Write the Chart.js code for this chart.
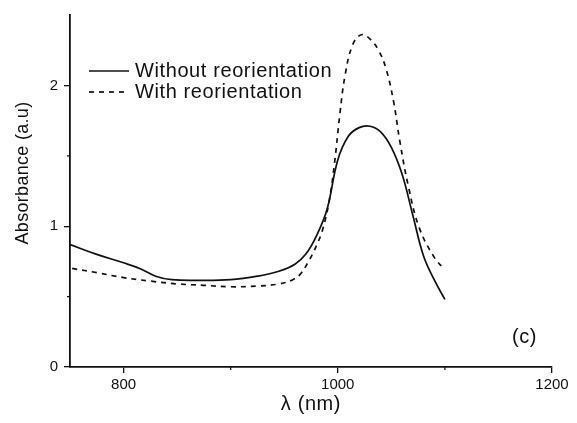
<!DOCTYPE html>
<html>
<head>
<meta charset="utf-8">
<script src="https://cdn.jsdelivr.net/npm/chart.js@4"></script>
<style>
  html, body { margin: 0; padding: 0; background: #fff; }
  #wrap { width: 577px; height: 423px; }
</style>
</head>
<body>
<div id="wrap"><canvas id="absChart" width="577" height="423"></canvas></div>
<script>
// wavelength (nm) / absorbance pairs
const withoutX = [750, 775, 800, 815, 830, 845, 870, 900, 925, 945, 960, 970, 980, 990, 1000, 1010, 1020, 1030, 1040, 1050, 1060, 1070, 1080, 1090, 1100];
const withoutY = [0.87, 0.80, 0.74, 0.70, 0.645, 0.62, 0.615, 0.62, 0.645, 0.68, 0.73, 0.80, 0.93, 1.12, 1.47, 1.64, 1.70, 1.71, 1.67, 1.56, 1.37, 1.08, 0.79, 0.62, 0.48];

const withX = [752, 775, 800, 825, 850, 875, 900, 925, 945, 958, 965, 972, 980, 986, 992, 997, 1002, 1007, 1014, 1022, 1030, 1038, 1045, 1052, 1058, 1066, 1076, 1090, 1100];
const withY = [0.70, 0.67, 0.635, 0.61, 0.59, 0.58, 0.57, 0.575, 0.59, 0.62, 0.66, 0.74, 0.86, 0.98, 1.18, 1.45, 1.80, 2.08, 2.29, 2.36, 2.33, 2.25, 2.12, 1.89, 1.60, 1.28, 0.99, 0.78, 0.69];

const seriesNames = ['Without reorientation', 'With reorientation'];
const xLabels = [800, 1000, 1200];
const xMinor = [900, 1100];
const yLabels = [0, 1, 2];
const yMinor = [0.5, 1.5];
const panelTag = '(c)';

const toPoints = (xs, ys) => xs.map((x, i) => ({ x: x, y: ys[i] }));

const FONT = '"Liberation Sans", Arial, sans-serif';
const INK = '#111';

// legend, titles, panel label and short minor ticks
const overlay = {
  id: 'overlay',
  afterDraw(chart) {
    const ctx = chart.ctx;
    const xs = chart.scales.x, ys = chart.scales.y;
    const area = chart.chartArea;
    ctx.save();
    ctx.strokeStyle = INK;
    ctx.fillStyle = INK;

    // minor ticks
    ctx.lineWidth = 1.2;
    ctx.beginPath();
    xMinor.forEach(v => {
      const px = xs.getPixelForValue(v);
      ctx.moveTo(px, area.bottom); ctx.lineTo(px, area.bottom + 3);
    });
    yMinor.forEach(v => {
      const py = ys.getPixelForValue(v);
      ctx.moveTo(area.left, py); ctx.lineTo(area.left - 3, py);
    });
    ctx.stroke();

    // legend
    ctx.lineWidth = 1.7;
    ctx.font = '20px ' + FONT;
    ctx.letterSpacing = '0.6px';
    ctx.textBaseline = 'middle';
    ctx.textAlign = 'left';
    ctx.beginPath();
    ctx.moveTo(89, 71); ctx.lineTo(129, 71);
    ctx.stroke();
    ctx.fillText(seriesNames[0], 135, 71);

    ctx.setLineDash([5, 5]);
    ctx.beginPath();
    ctx.moveTo(89, 92); ctx.lineTo(129, 92);
    ctx.stroke();
    ctx.setLineDash([]);
    ctx.fillText(seriesNames[1], 135, 92);

    // panel tag
    ctx.fillText(panelTag, 512, 337);

    // axis titles
    ctx.textAlign = 'center';
    ctx.font = '20px ' + FONT;
    ctx.fillText('λ (nm)', (area.left + area.right) / 2, 404);

    ctx.font = '18px ' + FONT;
    ctx.letterSpacing = '0.3px';
    ctx.translate(23, 173);
    ctx.rotate(-Math.PI / 2);
    ctx.fillText('Absorbance (a.u)', 0, 0);
    ctx.restore();
  }
};

new Chart(document.getElementById('absChart'), {
  type: 'line',
  data: {
    datasets: [{
      label: seriesNames[0],
      data: toPoints(withoutX, withoutY),
      borderColor: INK,
      borderWidth: 1.7,
      pointRadius: 0,
      tension: 0.4,
      fill: false
    }, {
      label: seriesNames[1],
      data: toPoints(withX, withY),
      borderColor: INK,
      borderWidth: 1.7,
      borderDash: [5, 5],
      pointRadius: 0,
      tension: 0.4,
      fill: false
    }]
  },
  options: {
    responsive: false,
    animation: false,
    layout: { padding: { left: 0, top: 14, right: 25, bottom: 0 } },
    plugins: { legend: { display: false }, tooltip: { enabled: false } },
    scales: {
      x: {
        type: 'linear',
        min: 750,
        max: 1200,
        afterFit(s) { s.height = 56; },
        afterBuildTicks(s) {
          s.ticks = xLabels.map(v => ({ value: v }));
        },
        ticks: {
          color: INK,
          font: { family: FONT, size: 15 },
          padding: 3,
          maxRotation: 0,
          callback: v => String(v)
        },
        grid: { drawOnChartArea: false, drawTicks: true, tickLength: 6, color: INK, lineWidth: 1.3 },
        border: { display: true, color: INK, width: 1.8 }
      },
      y: {
        min: 0,
        max: 2.5,
        afterFit(s) { s.width = 70; },
        afterBuildTicks(s) {
          s.ticks = yLabels.map(v => ({ value: v }));
        },
        ticks: {
          color: INK,
          font: { family: FONT, size: 15 },
          padding: 6,
          callback: v => String(v)
        },
        grid: { drawOnChartArea: false, drawTicks: true, tickLength: 6, color: INK, lineWidth: 1.3 },
        border: { display: true, color: INK, width: 1.8 }
      }
    }
  },
  plugins: [overlay]
});
</script>
</body>
</html>
